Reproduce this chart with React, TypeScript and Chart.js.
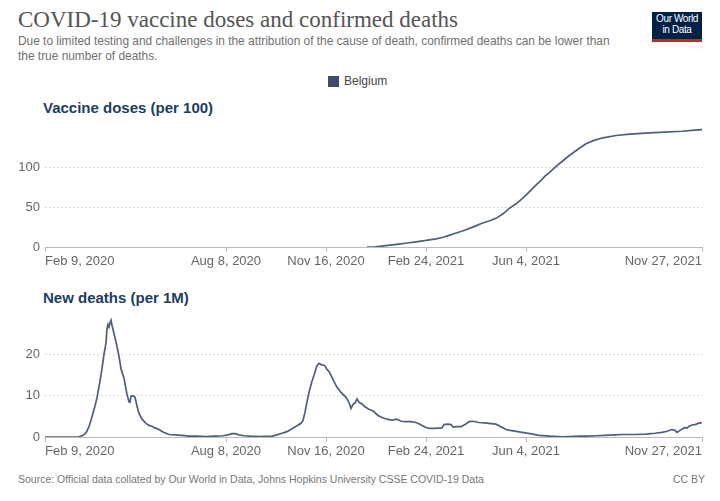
import React, { useEffect, useRef } from "react";
import { Chart, registerables } from "chart.js";

Chart.register(...registerables);

// ---- Data (x = days since Feb 9, 2020) ----
const X_TICK_DAYS = [0, 181, 281, 381, 481, 657];
const X_TICK_LABELS = ["Feb 9, 2020", "Aug 8, 2020", "Nov 16, 2020", "Feb 24, 2021", "Jun 4, 2021", "Nov 27, 2021"];

const VACCINE_Y_TICKS = [0, 50, 100];
const DEATHS_Y_TICKS = [0, 10, 20];

const vaccineDays = [
  322, 330, 337, 345, 354, 362, 371, 381, 391, 398, 404, 412, 421, 429, 437, 444, 451, 458, 464, 471,
  477, 482, 487, 492, 496, 500, 504, 510, 517, 525, 534, 541, 549, 558, 571, 585, 604, 620, 637, 650, 657,
];
const vaccineDoses = [
  0, 0.3, 1.2, 2.3, 3.7, 5.0, 6.5, 8.2, 10.2, 12.2, 14.6, 17.8, 21.5, 25.5, 29.7, 32.5, 35.8, 41.5, 48, 54,
  60.2, 66, 72.4, 78.5, 83.3, 88.5, 92.7, 99.5, 106.9, 115, 123.2, 129, 133.3, 136.5, 139.4, 141.2, 142.7, 143.6, 144.7, 146, 146.8,
];

const deathDays = [
  0, 20, 34, 38, 41, 44, 47, 50, 52, 55, 57, 59, 61, 62, 63, 64, 65, 66, 67, 69,
  72, 74, 76, 79, 82, 84, 85, 86, 88, 90, 92, 94, 97, 101, 104, 107, 110, 114, 118, 124,
  130, 137, 144, 152, 161, 170, 178, 183, 187, 190, 194, 199, 205, 214, 227, 232, 237, 242, 247, 252,
  256, 258, 260, 262, 264, 267, 269, 272, 274, 276, 278, 280, 282, 284, 286, 289, 292, 296, 301, 304,
  306, 308, 310, 312, 314, 317, 320, 324, 327, 329, 333, 337, 342, 347, 352, 356, 361, 366, 371, 374,
  377, 381, 384, 390, 397, 399, 403, 406, 408, 412, 416, 420, 424, 428, 434, 440, 444, 451, 456, 461,
  465, 470, 477, 485, 494, 505, 517, 525, 534, 542, 551, 560, 570, 577, 590, 601, 610, 617, 622, 627,
  630, 632, 635, 637, 640, 642, 644, 647, 650, 653, 657,
];
const newDeaths = [
  0, 0, 0.05, 0.4, 1.0, 2.5, 4.9, 7.5, 9.5, 13.5, 16.5, 20, 22.7, 26.2, 27.2, 26.6, 27.6, 28.2, 27, 25,
  21.9, 19.5, 16.5, 14.2, 10.3, 8.5, 8.4, 9.8, 10.0, 9.6, 7.5, 5.7, 4.3, 3.3, 2.8, 2.6, 2.2, 1.8, 1.2, 0.6,
  0.5, 0.4, 0.2, 0.2, 0.1, 0.2, 0.3, 0.5, 0.8, 0.8, 0.5, 0.3, 0.2, 0.1, 0.2, 0.5, 0.9, 1.3, 2.0, 2.7,
  3.3, 4.0, 6.0, 8.5, 10.8, 13.5, 14.9, 17.3, 17.8, 17.5, 17.4, 17.2, 16.3, 15.8, 14.9, 13.4, 12.0, 10.8, 9.6, 8.4,
  6.9, 7.9, 8.2, 9.2, 8.4, 8.0, 7.3, 6.7, 6.4, 6.1, 5.2, 4.7, 4.3, 4.1, 4.3, 3.8, 3.7, 3.7, 3.5, 3.2,
  2.8, 2.3, 2.1, 2.1, 2.2, 3.0, 3.1, 3.0, 2.4, 2.5, 2.5, 3.0, 3.7, 3.8, 3.5, 3.4, 3.3, 3.1, 2.5, 1.8,
  1.6, 1.4, 1.1, 0.8, 0.4, 0.2, 0.05, 0.1, 0.2, 0.2, 0.3, 0.4, 0.5, 0.6, 0.6, 0.7, 0.9, 1.1, 1.4, 1.8,
  1.6, 1.1, 1.6, 1.9, 2.3, 2.1, 2.6, 2.9, 3.0, 3.3, 3.5,
];

const LINE_COLOR = "#515e77";
const SANS = '"Liberation Sans", Arial, Helvetica, sans-serif';

function makeConfig(days: number[], values: number[], yTicks: number[], yMax: number): any {
  return {
    type: "line",
    data: {
      datasets: [
        {
          label: "Belgium",
          data: days.map((d, i) => ({ x: d, y: values[i] })),
          borderColor: LINE_COLOR,
          borderWidth: 1.7,
          pointRadius: 0,
          tension: 0,
          fill: false,
        },
      ],
    },
    options: {
      animation: false,
      responsive: false,
      maintainAspectRatio: false,
      layout: { padding: { top: 15, right: 18, bottom: 0, left: 0 } },
      plugins: { legend: { display: false }, tooltip: { enabled: false } },
      scales: {
        x: {
          type: "linear",
          min: X_TICK_DAYS[0],
          max: X_TICK_DAYS[X_TICK_DAYS.length - 1],
          afterBuildTicks: (s: any) => {
            s.ticks = X_TICK_DAYS.map((v) => ({ value: v }));
          },
          afterFit: (s: any) => {
            s.height = 30;
          },
          ticks: {
            autoSkip: false,
            maxRotation: 0,
            align: "inner",
            color: "#666",
            padding: 2,
            font: { size: 13, family: SANS },
            callback: (v: any) => {
              const i = X_TICK_DAYS.indexOf(Number(v));
              return i >= 0 ? X_TICK_LABELS[i] : "";
            },
          },
          grid: { drawOnChartArea: false, drawTicks: true, tickLength: 5, color: "#bbb" },
          border: { display: true, color: "#bbb", width: 1 },
        },
        y: {
          type: "linear",
          min: 0,
          max: yMax,
          afterBuildTicks: (s: any) => {
            s.ticks = yTicks.map((v) => ({ value: v }));
          },
          afterFit: (s: any) => {
            s.width = 45;
          },
          ticks: { color: "#666", padding: 5, font: { size: 13, family: SANS } },
          grid: {
            drawTicks: false,
            color: (ctx: any) => (ctx.tick && ctx.tick.value === 0 ? "rgba(0,0,0,0)" : "#d0d0d0"),
            lineWidth: 1,
          },
          border: { display: false, dash: [1.5, 2.5] },
        },
      },
    },
  };
}

function LineChart(props: { days: number[]; values: number[]; yTicks: number[]; yMax: number; top: number }) {
  const ref = useRef<HTMLCanvasElement | null>(null);
  useEffect(() => {
    if (!ref.current) return;
    const chart = new Chart(ref.current, makeConfig(props.days, props.values, props.yTicks, props.yMax));
    return () => chart.destroy();
  }, []);
  return (
    <canvas
      ref={ref}
      width={720}
      height={165}
      style={{ position: "absolute", left: 0, top: props.top, width: 720, height: 165 }}
    />
  );
}

export default function App() {
  const heading: React.CSSProperties = {
    position: "absolute",
    left: 43,
    fontFamily: SANS,
    fontWeight: "bold",
    fontSize: 15,
    color: "#1d3d63",
    whiteSpace: "nowrap",
    lineHeight: "17px",
  };
  return (
    <div
      style={{
        position: "fixed",
        left: 0,
        top: 0,
        width: 720,
        height: 501,
        background: "#fff",
        overflow: "hidden",
      }}
    >
      <div
        style={{
          position: "absolute",
          left: 18,
          top: 6,
          fontFamily: '"Liberation Serif", "Times New Roman", serif',
          fontSize: 23,
          color: "#555",
          whiteSpace: "nowrap",
          lineHeight: "28px",
        }}
      >
        COVID-19 vaccine doses and confirmed deaths
      </div>
      <div
        style={{
          position: "absolute",
          left: 18,
          top: 34,
          width: 610,
          fontFamily: SANS,
          fontSize: 11.9,
          lineHeight: "15px",
          color: "#707070",
        }}
      >
        Due to limited testing and challenges in the attribution of the cause of death, confirmed deaths can be lower than
        the true number of deaths.
      </div>
      <div
        style={{
          position: "absolute",
          left: 652,
          top: 12,
          width: 50,
          height: 25,
          background: "#002147",
          borderBottom: "3px solid #ce261e",
          color: "#fff",
          fontFamily: SANS,
          fontSize: 10,
          lineHeight: "10.5px",
          textAlign: "center",
          paddingTop: 2,
          boxSizing: "content-box",
          letterSpacing: -0.4,
        }}
      >
        Our World
        <br />
        in Data
      </div>
      <div style={{ position: "absolute", left: 328, top: 76, width: 11, height: 11, background: "#3b4d68" }} />
      <div
        style={{
          position: "absolute",
          left: 344,
          top: 74,
          fontFamily: SANS,
          fontSize: 12,
          lineHeight: "15px",
          color: "#444",
        }}
      >
        Belgium
      </div>
      <div style={{ ...heading, top: 99 }}>Vaccine doses (per 100)</div>
      <LineChart days={vaccineDays} values={vaccineDoses} yTicks={VACCINE_Y_TICKS} yMax={150} top={112} />
      <div style={{ ...heading, top: 289 }}>New deaths (per 1M)</div>
      <LineChart days={deathDays} values={newDeaths} yTicks={DEATHS_Y_TICKS} yMax={29} top={302} />
      <div
        style={{
          position: "absolute",
          left: 18,
          top: 472,
          fontFamily: SANS,
          fontSize: 10.5,
          lineHeight: "14px",
          color: "#777",
          whiteSpace: "nowrap",
        }}
      >
        Source: Official data collated by Our World in Data, Johns Hopkins University CSSE COVID-19 Data
      </div>
      <div
        style={{
          position: "absolute",
          right: 15,
          top: 472,
          fontFamily: SANS,
          fontSize: 10.5,
          lineHeight: "14px",
          color: "#777",
          whiteSpace: "nowrap",
        }}
      >
        CC BY
      </div>
    </div>
  );
}
